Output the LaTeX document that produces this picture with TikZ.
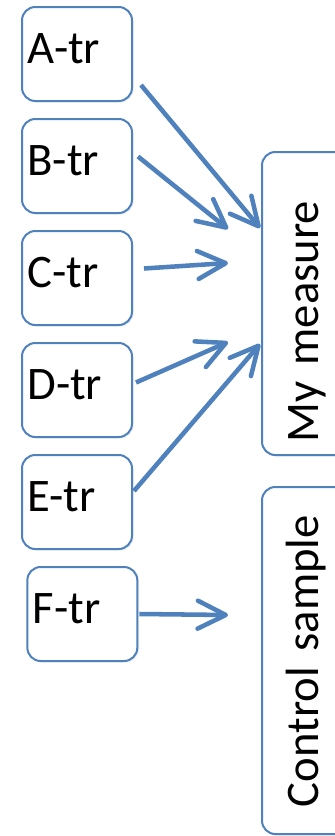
\documentclass[tikz,border=0pt]{standalone}
\usepackage{fontspec}
\setmainfont{Carlito}
\usepackage{tikz}
\usetikzlibrary{positioning, arrows.meta, shadows}
\definecolor{officeblue}{RGB}{79,129,189}
\tikzset{
	every node/.append style={
		font={\fontsize{35}{42}\selectfont},
	},
	roundbox/.append style={
		draw=officeblue,
		line width=1.5pt,
		rounded corners=10pt,
		fill=white,
		outer sep=0pt,
		drop shadow={shadow xshift=1.2pt, shadow yshift=-1.2pt, opacity=0.12},
	},
}

\begin{document}
\begin{tikzpicture}[x=0.75pt, y=-0.75pt,
	trbox/.style = {roundbox, minimum width=82.5pt, minimum height=70.5pt, text width=74.5pt, align=left, inner xsep=4pt, inner ysep=0pt, text height=42pt, text depth=28.5pt},
	sidebox/.style = {roundbox, rotate=90, minimum height=67.5pt, inner ysep=0pt, align=left, text height=42pt, text depth=25.5pt},
	feed/.style = {draw=officeblue, line width=3.4pt, -{Straight Barb[length=21pt, width=21pt, round]}}
	]
	\useasboundingbox (0,0) rectangle (335,836);
	
	\node[trbox] (A) at (77,54) {A-tr};
	\node[trbox, below=13.5pt of A] (B) {B-tr};
	\node[trbox, below=13.5pt of B] (C) {C-tr};
	\node[trbox, below=13.5pt of C] (D) {D-tr};
	\node[trbox, below=13.5pt of D] (E) {E-tr};
	\node[trbox, below=13.5pt of E, xshift=4pt] (F) {F-tr};
	
	\node[sidebox, minimum width=227.25pt, text width=207.75pt, inner xsep=9.75pt] (meas) at (307,303.5) {My measure};
	\node[sidebox, minimum width=260.25pt, text width=219.75pt, inner xsep=20.25pt] (ctrl) at (307,660.5) {Control sample};
	
	% free arrow ends in front of the two boxes
	\coordinate (tipA) at (260,228);
	\coordinate (tipB) at (228,229);
	\coordinate (tipC) at (228,263);
	\coordinate (tipD) at (228,342);
	\coordinate (tipE) at (260,344);
	\coordinate (tipF) at (228,615);
	
	\draw[feed] ([shift={(9,31)}]A.east) -- (tipA);
	\draw[feed] ([shift={(6,-9.5)}]B.east) -- (tipB);
	\draw[feed] ([shift={(12,-9.5)}]C.east) -- (tipC);
	\draw[feed] ([shift={(4,-7.5)}]D.east) -- (tipD);
	\draw[feed] ([shift={(2,-11)}]E.east) -- (tipE);
	\draw[feed] ([shift={(2,0)}]F.east) -- (tipF);
	
\end{tikzpicture}
\end{document}
